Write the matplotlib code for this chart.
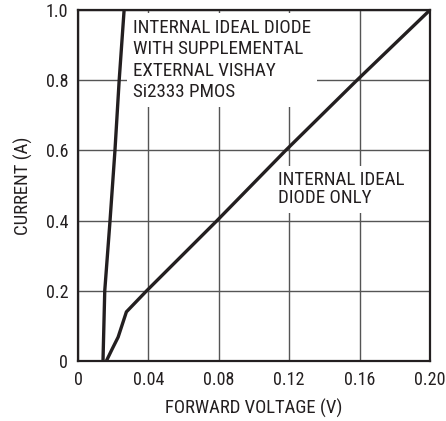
import matplotlib
matplotlib.use("Agg")
import matplotlib.pyplot as plt

plt.rcParams['font.family'] = ['Roboto Condensed', 'Archivo Narrow', 'DejaVu Sans']

# Data
v_ext = [0.0142, 0.0147, 0.0152, 0.0182, 0.0210, 0.0234, 0.0262]
i_ext = [0.0, 0.10, 0.20, 0.40, 0.60, 0.80, 1.00]

v_int = [0.0161, 0.0195, 0.0228, 0.0275, 0.0390, 0.0790, 0.1180, 0.1585, 0.2000]
i_int = [0.0, 0.035, 0.068, 0.140, 0.200, 0.400, 0.600, 0.800, 1.000]

xticks = [0, 0.04, 0.08, 0.12, 0.16, 0.20]
xticklabels = ["0", "0.04", "0.08", "0.12", "0.16", "0.20"]
yticks = [0, 0.2, 0.4, 0.6, 0.8, 1.0]
yticklabels = ["0", "0.2", "0.4", "0.6", "0.8", "1.0"]

fig = plt.figure(figsize=(4.46, 4.21), dpi=100)
ax = fig.add_axes([78/446, 60/421, 352/446, 351/421])

ax.set_xlim(0, 0.2)
ax.set_ylim(0, 1.0)
ax.set_xticks(xticks)
ax.set_xticklabels(xticklabels)
ax.set_yticks(yticks)
ax.set_yticklabels(yticklabels)
ax.tick_params(length=0, labelsize=13, colors='#231f20')
ax.tick_params(axis='x', pad=7)
ax.tick_params(axis='y', pad=7)
ax.grid(True, color='#555555', linewidth=1.0)
ax.set_axisbelow(True)
for s in ax.spines.values():
    s.set_linewidth(1.6)
    s.set_color('#231f20')

ax.plot(v_ext, i_ext, color='#231f20', linewidth=2.4, zorder=5, solid_capstyle='butt')
ax.plot(v_int, i_int, color='#231f20', linewidth=2.4, zorder=5, solid_capstyle='butt')

ax.text(0.0312, 0.974, "INTERNAL IDEAL DIODE\nWITH SUPPLEMENTAL\nEXTERNAL VISHAY\nSi2333 PMOS",
        fontsize=13.7, va='top', ha='left', color='#231f20', linespacing=1.24,
        bbox=dict(boxstyle='square,pad=0.3', fc='white', ec='none'), zorder=3)
ax.text(0.1136, 0.54, "INTERNAL IDEAL\nDIODE ONLY",
        fontsize=13.7, va='top', ha='left', color='#231f20', linespacing=1.0,
        bbox=dict(boxstyle='square,pad=0.3', fc='white', ec='none'), zorder=3)

ax.set_xlabel("FORWARD VOLTAGE (V)", fontsize=13.5, color='#231f20', labelpad=7)
ax.set_ylabel("CURRENT (A)", fontsize=13.5, color='#231f20', labelpad=9)

fig.savefig("out.png", dpi=100)
